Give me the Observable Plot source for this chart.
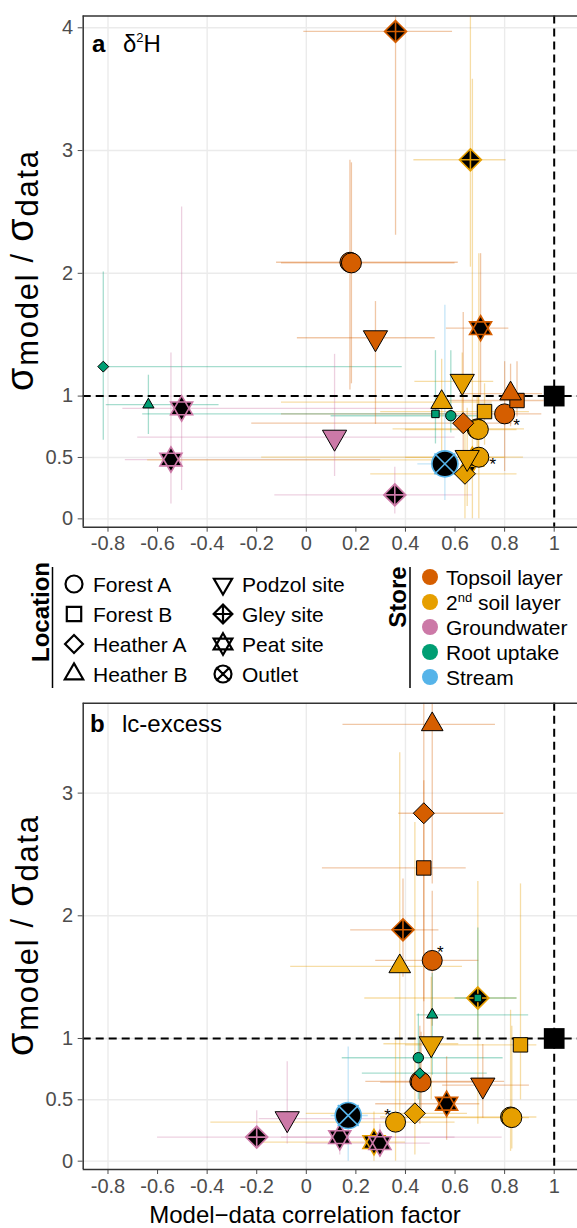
<!DOCTYPE html>
<html><head><meta charset="utf-8">
<script src="https://cdn.jsdelivr.net/npm/d3@7"></script>
<script src="https://cdn.jsdelivr.net/npm/@observablehq/plot@0.6"></script>
<style>
html,body{margin:0;padding:0;background:#fff;overflow:hidden;}
body{width:577px;height:1228px;font-family:"Liberation Sans",Arial,sans-serif;}
svg{display:block}
</style></head><body>
<div id="pa"></div><div id="legend"></div><div id="pb"></div>
<script>
// ---------- categories ----------
const storeNames = ["Topsoil layer", "2nd soil layer", "Groundwater", "Root uptake", "Stream"];
const storeColors = ["#D55E00", "#E69F00", "#CC79A7", "#009E73", "#56B4E9"];
const locNames = ["Forest A", "Forest B", "Heather A", "Heather B", "Podzol site", "Gley site", "Peat site", "Outlet"];
const storeCode = {T: "Topsoil layer", S: "2nd soil layer", G: "Groundwater", R: "Root uptake", W: "Stream"};
const xTicks = [-0.8, -0.6, -0.4, -0.2, 0, 0.2, 0.4, 0.6, 0.8, 1];
const xGrid = [-0.8, -0.4, 0, 0.4, 0.8];
const aTicksY = [0, 0.5, 1, 2, 3, 4];
const bTicksY = [0, 0.5, 1, 2, 3];
const refR = [1], refSd = [1];

// ---------- panel a : d2H ----------
const aStore = ["T","S","T","T","T","T","S","T","T","S","S","T","T","S","S","G","G","G","G","S","S","S","S","W","R","R","R","R"];
const aLoc   = ["Gley site","Gley site","Forest A","Forest A","Podzol site","Peat site","Podzol site","Heather B","Forest B","Heather B","Forest B","Forest A","Heather A","Forest A","Forest A","Podzol site","Peat site","Peat site","Gley site","Peat site","Podzol site","Forest A","Heather A","Outlet","Heather A","Heather B","Forest B","Forest A"];
const aR     = [0.36, 0.662, 0.176, 0.182, 0.279, 0.703, 0.629, 0.824, 0.85, 0.546, 0.719, 0.80, 0.633, 0.689, 0.694, 0.114, -0.503, -0.546, 0.357, 0.67, 0.649, 0.696, 0.64, 0.559, -0.819, -0.637, 0.521, 0.583];
const aSd    = [3.97, 2.925, 2.09, 2.085, 1.475, 1.553, 1.12, 1.02, 0.964, 0.95, 0.874, 0.855, 0.779, 0.733, 0.728, 0.665, 0.90, 0.483, 0.195, 0.48, 0.50, 0.502, 0.367, 0.448, 1.24, 0.93, 0.855, 0.84];
const aRlo   = [-0.01, 0.434, -0.12, -0.1, -0.036, 0.565, 0.438, 0.62, 0.55, -0.1, 0.3, -0.1, -0.22, 0.35, 0.4, -0.68, -0.74, -0.73, -0.127, -0.64, 0.4, -0.18, 0.26, 0.45, -0.83, -0.807, -0.66, 0.1];
const aRhi   = [0.59, 0.806, 0.613, 0.6, 0.52, 0.817, 0.756, 0.953, 0.96, 0.75, 0.9, 0.95, 0.83, 0.88, 0.85, 0.6, 0.55, 0.3, 0.67, 0.75, 0.8, 0.876, 0.85, 0.62, 0.387, -0.352, 0.6, 0.7];
const aSdlo  = [2.31, 2.05, 1.05, 1.1, 0.77, 1.0, 0.8, 0.75, 0.83, 0.45, 0.6, 0.385, 0.45, 0.45, 0.5, 0.345, 0.23, 0.12, 0.04, 0.0, 0.1, 0.0, 0.0, 0.15, 0.64, 0.687, 0.61, 0.7];
const aSdhi  = [4.5, 4.5, 2.92, 2.9, 1.77, 2.16, 1.35, 1.26, 1.28, 1.3, 1.1, 1.28, 1.68, 1.0, 1.0, 1.34, 2.54, 1.35, 0.42, 3.58, 0.9, 2.16, 0.75, 1.74, 2.01, 1.17, 1.37, 1.37];
const aStar  = ["","","","","","","","","","","","se","","","","","","","","","","e","","","","","",""];

// ---------- panel b : lc-excess ----------
const bStore = ["T","T","T","T","T","S","S","R","R","S","S","R","R","T","T","T","T","S","S","S","S","W","S","G","G","G","G"];
const bLoc   = ["Heather B","Heather A","Forest B","Gley site","Forest A","Heather B","Gley site","Forest B","Heather B","Podzol site","Forest B","Forest A","Heather A","Forest A","Forest A","Podzol site","Peat site","Heather A","Forest A","Forest A","Forest A","Outlet","Peat site","Peat site","Peat site","Podzol site","Gley site"];
const bR     = [0.508, 0.474, 0.474, 0.39, 0.508, 0.377, 0.692, 0.692, 0.508, 0.504, 0.864, 0.452, 0.458, 0.458, 0.463, 0.712, 0.566, 0.438, 0.824, 0.829, 0.36, 0.169, 0.273, 0.135, 0.297, -0.077, -0.2];
const bSd    = [3.56, 2.836, 2.39, 1.886, 1.636, 1.587, 1.33, 1.33, 1.193, 0.957, 0.948, 0.843, 0.717, 0.65, 0.645, 0.62, 0.468, 0.39, 0.36, 0.355, 0.318, 0.372, 0.155, 0.196, 0.147, 0.346, 0.196];
const bRlo   = [0.148, 0.373, 0.065, 0.179, 0.28, -0.063, 0.236, 0.6, 0.447, 0.313, 0.4, 0.145, 0.226, 0.24, 0.3, 0.55, 0.28, 0.0, 0.3, 0.4, -0.385, 0.1, -0.2, -0.1, 0.0, -0.19, -0.6];
const bRhi   = [0.763, 0.797, 0.645, 0.535, 0.696, 0.63, 0.85, 0.85, 0.897, 0.615, 0.93, 0.794, 0.73, 0.8, 0.75, 0.9, 0.7, 0.65, 0.93, 0.9, 0.6, 0.25, 0.4, 0.6, 0.5, 0.35, 0.79];
const bSdlo  = [2.26, 1.3, 1.0, 1.5, 1.1, 0.4, 0.3, 1.0, 0.7, 0.5, 0.5, 0.5, 0.4, 0.3, 0.35, 0.35, 0.17, 0.05, 0.08, 0.1, 0.0, 0.0, 0.0, 0.05, 0.03, 0.14, 0.11];
const bSdhi  = [3.8, 3.8, 3.1, 2.3, 2.2, 3.33, 2.28, 1.9, 1.53, 1.5, 2.26, 1.2, 1.0, 1.1, 1.05, 0.95, 0.85, 2.76, 1.23, 1.1, 1.0, 0.93, 0.4, 0.35, 0.3, 0.81, 0.41];
const bStar  = ["","","","","ne","","","","","","","","","","","","","","","","nw","","","","","",""];

// ---------- symbols ----------
function mk(f) { return {draw(c, size) { f(c, Math.sqrt(size / Math.PI)); }}; }
const SYM = {
  circle: mk((c, r) => { c.moveTo(r, 0); c.arc(0, 0, r, 0, 2 * Math.PI); c.closePath(); }),
  square: mk((c, r) => { const h = r * 0.72; c.moveTo(-h, -h); c.lineTo(h, -h); c.lineTo(h, h); c.lineTo(-h, h); c.closePath(); }),
  diamond: mk((c, r) => { const h = r * 1.05; c.moveTo(0, -h); c.lineTo(h, 0); c.lineTo(0, h); c.lineTo(-h, 0); c.closePath(); }),
  triUp: mk((c, r) => { const R = r * 1.25, w = R * Math.sqrt(3) / 2; c.moveTo(0, -R); c.lineTo(w, R / 2); c.lineTo(-w, R / 2); c.closePath(); }),
  triDown: mk((c, r) => { const R = r * 1.4, w = R * Math.sqrt(3) / 2; c.moveTo(0, R); c.lineTo(w, -R / 2); c.lineTo(-w, -R / 2); c.closePath(); }),
  diamondPlus: mk((c, r) => { const h = r * 1.1; c.moveTo(0, -h); c.lineTo(h, 0); c.lineTo(0, h); c.lineTo(-h, 0); c.closePath(); c.moveTo(0, -h); c.lineTo(0, h); c.moveTo(-h, 0); c.lineTo(h, 0); }),
  star: mk((c, r) => { const R = r * 1.27, w = R * Math.sqrt(3) / 2; c.moveTo(0, -R); c.lineTo(w, R / 2); c.lineTo(-w, R / 2); c.closePath(); c.moveTo(0, R); c.lineTo(-w, -R / 2); c.lineTo(w, -R / 2); c.closePath(); }),
  circleX: mk((c, r) => { c.moveTo(r, 0); c.arc(0, 0, r, 0, 2 * Math.PI); c.closePath(); const k = r * 0.8; c.moveTo(-k, -k); c.lineTo(k, k); c.moveTo(-k, k); c.lineTo(k, -k); })
};
const locSym = {"Forest A": SYM.circle, "Forest B": SYM.square, "Heather A": SYM.diamond, "Heather B": SYM.triUp,
  "Podzol site": SYM.triDown, "Gley site": SYM.diamondPlus, "Peat site": SYM.star, "Outlet": SYM.circleX};
const special = ["Gley site", "Peat site", "Outlet"];

function build(store, loc, r, sd, rlo, rhi, sdlo, sdhi, star, yMax) {
  return store.map((s, i) => ({
    store: storeCode[s], loc: loc[i], r: r[i], sd: sd[i],
    rlo: Math.max(-0.9, rlo[i]), rhi: rhi[i],
    sdlo: sdlo[i], sdhi: Math.min(yMax, sdhi[i]), star: star[i]
  }));
}

const fmt = d => String(Math.round(d * 10) / 10);
const FONT = "'Liberation Sans', Arial, sans-serif";
const starOff = {se: [12, 12], e: [14, 7], ne: [8, -8], nw: [-8, -7]};

function panel({data, height, marginTop, marginBottom, yDomain, yTicks}) {
  const marks = [
    Plot.ruleX(xGrid, {stroke: "#ebebeb", strokeWidth: 1.4}),
    Plot.ruleY(yTicks, {stroke: "#ebebeb", strokeWidth: 1.4}),
    Plot.ruleY(data, {y: "sd", x1: "rlo", x2: "rhi", stroke: "store", strokeOpacity: 0.35, strokeWidth: 1.3}),
    Plot.ruleX(data, {x: "r", y1: "sdlo", y2: "sdhi", stroke: "store", strokeOpacity: 0.35, strokeWidth: 1.3}),
    Plot.ruleY([1], {stroke: "black", strokeDasharray: "8,5", strokeWidth: 2}),
    Plot.ruleX([1], {stroke: "black", strokeDasharray: "8,5", strokeWidth: 2})
  ];
  for (const loc of special) {
    const d = data.filter(e => e.loc === loc && e.store !== "Root uptake");
    if (d.length) marks.push(Plot.dot(d, {x: "r", y: "sd", symbol: locSym[loc], r: loc === "Outlet" ? 13 : 10, fill: "black", stroke: "store", strokeWidth: 1.6}));
  }
  for (const loc of locNames.filter(l => !special.includes(l))) {
    const d = data.filter(e => e.loc === loc && e.store !== "Root uptake");
    if (d.length) marks.push(Plot.dot(d, {x: "r", y: "sd", symbol: locSym[loc], r: 10, fill: "store", stroke: "black", strokeWidth: 1}));
  }
  for (const loc of locNames) {
    const d = data.filter(e => e.loc === loc && e.store === "Root uptake");
    if (d.length) marks.push(Plot.dot(d, {x: "r", y: "sd", symbol: locSym[loc], r: 5.2, fill: "store", stroke: "black", strokeWidth: 1}));
  }
  for (const k of Object.keys(starOff)) {
    const d = data.filter(e => e.star === k);
    if (d.length) marks.push(Plot.text(d, {x: "r", y: "sd", text: () => "*", dx: starOff[k][0], dy: starOff[k][1], fontSize: 17, fill: "black"}));
  }
  marks.push(Plot.dot(refR.map((v, i) => ({r: v, sd: refSd[i]})), {x: "r", y: "sd", symbol: SYM.square, r: 14.4, fill: "black"}));
  marks.push(Plot.ruleX([-0.9], {stroke: "#333", strokeWidth: 1.5}));
  marks.push(Plot.ruleY([yDomain[0]], {stroke: "#333", strokeWidth: 1.5}));
  marks.push(Plot.ruleY([yDomain[1]], {stroke: "#333", strokeWidth: 1.5}));
  return Plot.plot({
    width: 577, height, marginLeft: 82.7, marginRight: 0, marginTop, marginBottom,
    style: {fontFamily: FONT, fontSize: "20px", color: "#4d4d4d", background: "white", overflow: "visible"},
    x: {domain: [-0.9, 1.094], ticks: xTicks, tickFormat: fmt, tickSize: 5, tickPadding: 4, label: null},
    y: {domain: yDomain, ticks: yTicks, tickFormat: fmt, tickSize: 5, tickPadding: 5, label: null},
    color: {domain: storeNames, range: storeColors},
    marks
  });
}

function yTitle(svg, cy) {
  const t = d3.select(svg).append("text")
    .attr("transform", `translate(33,${cy}) rotate(-90)`)
    .attr("text-anchor", "middle").attr("fill", "black").style("font-family", FONT)
    .attr("textLength", 240).attr("lengthAdjust", "spacing");
  t.append("tspan").attr("font-size", 38).text("σ");
  t.append("tspan").attr("font-size", 31).attr("dy", 5).text("model");
  t.append("tspan").attr("font-size", 31).attr("dy", -5).text(" / ");
  t.append("tspan").attr("font-size", 38).text("σ");
  t.append("tspan").attr("font-size", 31).attr("dy", 5).text("data");
}

function panelTitle(svg, letter, x1, x2, y, parts) {
  const g = d3.select(svg).append("text").attr("y", y).attr("fill", "black")
    .attr("text-anchor", "start").style("font-family", FONT).attr("font-size", 24);
  g.append("tspan").attr("x", x1).attr("font-weight", "bold").text(letter);
  parts(g.append("tspan").attr("x", x2));
}

// ---------- panel a ----------
const aDom = [-0.068, 4.096];
const aData = build(aStore, aLoc, aR, aSd, aRlo, aRhi, aSdlo, aSdhi, aStar, aDom[1]);
const svgA = panel({data: aData, height: 560, marginTop: 15.5, marginBottom: 33.3, yDomain: aDom, yTicks: aTicksY});
document.getElementById("pa").appendChild(svgA);
yTitle(svgA, 271);
panelTitle(svgA, "a", 92, 123, 52, t => {
  t.text("δ");
  t.append("tspan").attr("font-size", 13).attr("dy", -10).text("2");
  t.append("tspan").attr("dy", 10).text("H");
});

// ---------- legend ----------
{
  const W = 577, H = 135;
  const svg = d3.select("#legend").append("svg").attr("width", W).attr("height", H).style("font-family", FONT);
  svg.append("text").attr("transform", "translate(49,52) rotate(-90)").attr("text-anchor", "middle")
    .attr("font-weight", "bold").attr("font-size", 24).attr("fill", "black").text("Location");
  svg.append("line").attr("x1", 52.5).attr("x2", 52.5).attr("y1", 7).attr("y2", 128).attr("stroke", "black").attr("stroke-width", 1.5);
  const rows = [24, 54, 84, 114];
  locNames.forEach((l, i) => {
    const col = Math.floor(i / 4), row = i % 4;
    const sx = col ? 223 : 74, tx = col ? 242 : 93, y = rows[row];
    const p = d3.path();
    const rr = l === "Podzol site" ? 7.5 : l === "Forest B" ? 10 : 8.5;
    locSym[l].draw(p, Math.PI * rr * rr);
    svg.append("path").attr("d", p.toString()).attr("transform", `translate(${sx},${y})`)
      .attr("fill", "none").attr("stroke", "black").attr("stroke-width", 2.2);
    svg.append("text").attr("x", tx).attr("y", y).attr("dy", "0.36em").attr("font-size", 21).attr("fill", "black").text(l);
  });
  svg.append("text").attr("transform", "translate(406,37) rotate(-90)").attr("text-anchor", "middle")
    .attr("font-weight", "bold").attr("font-size", 24).attr("fill", "black").text("Store");
  svg.append("line").attr("x1", 410).attr("x2", 410).attr("y1", 7).attr("y2", 128).attr("stroke", "black").attr("stroke-width", 1.5);
  const srows = [17, 42, 67, 92, 117];
  storeNames.forEach((s, i) => {
    const y = srows[i];
    svg.append("circle").attr("cx", 430).attr("cy", y).attr("r", 8).attr("fill", storeColors[i]);
    const t = svg.append("text").attr("x", 446).attr("y", y).attr("dy", "0.36em").attr("font-size", 21).attr("fill", "black");
    if (s === "2nd soil layer") {
      t.append("tspan").text("2");
      t.append("tspan").attr("font-size", 13).attr("dy", -8).text("nd");
      t.append("tspan").attr("dy", 8).text(" soil layer");
    } else t.text(s);
  });
}

// ---------- panel b ----------
const bDom = [-0.068, 3.733];
const bData = build(bStore, bLoc, bR, bSd, bRlo, bRhi, bSdlo, bSdhi, bStar, bDom[1]);
const svgB = panel({data: bData, height: 533, marginTop: 7.7, marginBottom: 59, yDomain: bDom, yTicks: bTicksY});
document.getElementById("pb").appendChild(svgB);
yTitle(svgB, 241);
panelTitle(svgB, "b", 90, 122, 37, t => t.text("lc-excess"));
d3.select(svgB).append("text").attr("x", 305).attr("y", 528).attr("text-anchor", "middle")
  .attr("fill", "black").attr("font-size", 24).style("font-family", FONT).text("Model−data correlation factor");
</script></body></html>
